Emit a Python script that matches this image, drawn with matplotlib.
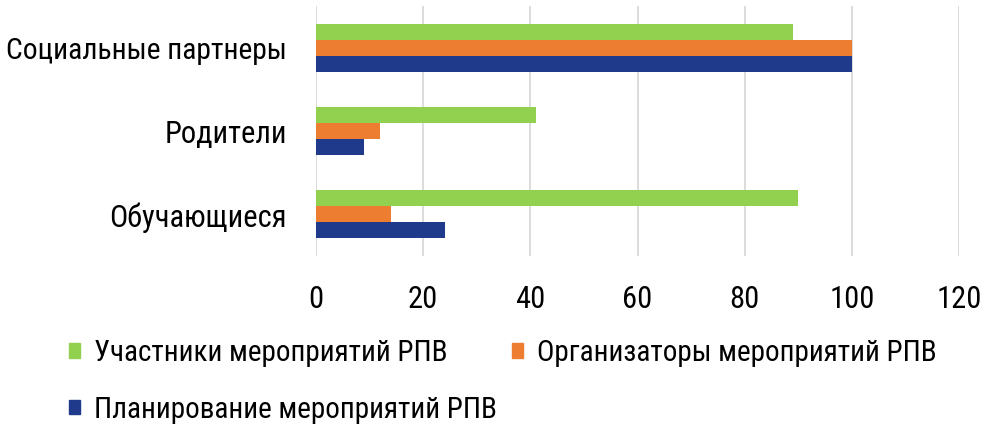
import matplotlib.pyplot as plt
import numpy as np
from matplotlib.patches import Patch

categories = ["Социальные партнеры", "Родители", "Обучающиеся"]
series_names = ["Участники мероприятий РПВ", "Организаторы мероприятий РПВ",
                "Планирование мероприятий РПВ"]
participants = [89, 41, 90]
organizers = [100, 12, 14]
planning = [100, 9, 24]
xticks = [0, 20, 40, 60, 80, 100, 120]

colors = ["#92D050", "#ED7D31", "#1F3A8A"]

plt.rcParams["font.family"] = ["Roboto Condensed", "DejaVu Sans"]

fig = plt.figure(figsize=(9.81, 4.25), dpi=100)
# axes in pixel coords: left 316, right 959, top 6, bottom 256
ax = fig.add_axes([316 / 981, 1 - 256 / 425, (959 - 316) / 981, 250 / 425])

y = np.arange(len(categories))
h = 0.193
for i, (vals, c) in enumerate(zip([participants, organizers, planning], colors)):
    ax.barh(y + (i - 1) * h, vals, height=h, color=c, label=series_names[i], zorder=2)

ax.set_xlim(0, 120)
ax.set_ylim(2.5, -0.5)
ax.set_xticks(xticks)
ax.set_yticks(y)
ax.set_yticklabels(categories, fontsize=22)
ax.get_yticklabels()[0].set_fontsize(21.3)  # long label, keep it inside the figure
ax.tick_params(axis="x", labelsize=22, length=0, pad=21)
ax.tick_params(axis="y", length=0, pad=21)
ax.grid(axis="x", color="#D9D9D9", linewidth=1.3, zorder=0)
for s in ax.spines.values():
    s.set_visible(False)

handles = [Patch(color=c) for c in colors]
order = [0, 2, 1]
fig.legend([handles[k] for k in order], [series_names[k] for k in order],
           ncol=2, loc="upper left", bbox_to_anchor=(69 / 981, 1 - 339 / 425),
           frameon=False, fontsize=21, handlelength=0.38, handleheight=0.38,
           handletextpad=0.48, columnspacing=0.5, labelspacing=0.98, borderpad=0,
           borderaxespad=0)

fig.savefig("out.png", dpi=100)
